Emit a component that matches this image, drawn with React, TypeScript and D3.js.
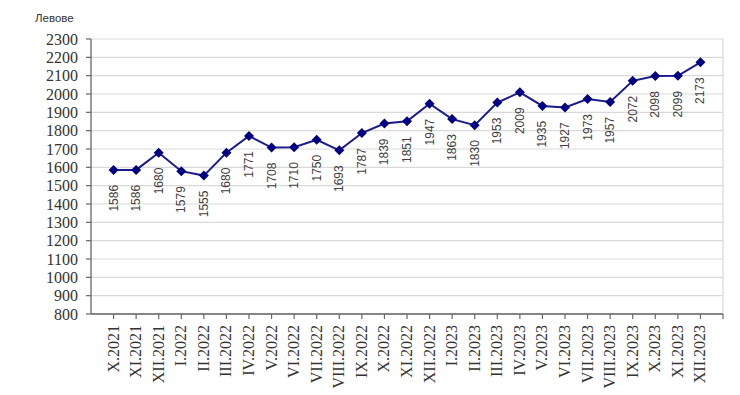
import React from "react";
import * as d3 from "d3";

const categories = [
  "X.2021", "XI.2021", "XII.2021", "I.2022", "II.2022", "III.2022", "IV.2022",
  "V.2022", "VI.2022", "VII.2022", "VIII.2022", "IX.2022", "X.2022", "XI.2022",
  "XII.2022", "I.2023", "II.2023", "III.2023", "IV.2023", "V.2023", "VI.2023",
  "VII.2023", "VIII.2023", "IX.2023", "X.2023", "XI.2023", "XII.2023",
];
const values = [
  1586, 1586, 1680, 1579, 1555, 1680, 1771, 1708, 1710, 1750, 1693, 1787, 1839,
  1851, 1947, 1863, 1830, 1953, 2009, 1935, 1927, 1973, 1957, 2072, 2098, 2099, 2173,
];
const yTicks = [800, 900, 1000, 1100, 1200, 1300, 1400, 1500, 1600, 1700, 1800, 1900, 2000, 2100, 2200, 2300];
const unitLabel = "Левове";

export default function App() {
  const W = 740, H = 395;
  const left = 91, right = 723, top = 39, bottom = 314;
  const x = d3.scalePoint<string>().domain(categories).range([left, right]).padding(1);
  const y = d3.scaleLinear().domain([800, 2300]).range([bottom, top]);
  const line = d3.line<number>()
    .x((_, i) => x(categories[i]) as number)
    .y((d) => y(d));
  const r = 5;
  const diamond = `M0,${-r}L${r},0L0,${r}L${-r},0Z`;
  const tickXs = [...categories.map((c) => x(c) as number), right];
  const serif = "'Liberation Serif', 'Times New Roman', Times, serif";
  const sans = "Arial, 'Liberation Sans', sans-serif";

  return (
    <svg width={W} height={H} style={{ position: "absolute", left: 0, top: 0, background: "#fff" }}>
      <text x={35} y={22} fontFamily={sans} fontSize={11.5} fill="#333">
        {unitLabel}
      </text>
      {yTicks.map((t) => (
        <line key={t} x1={left} x2={right} y1={y(t)} y2={y(t)} stroke="#d9d9d9" strokeWidth={1.2} />
      ))}
      <line x1={right} x2={right} y1={top} y2={bottom} stroke="#d9d9d9" strokeWidth={1.2} />
      <line x1={left} x2={left} y1={top} y2={bottom} stroke="#666" strokeWidth={1.3} />
      {yTicks.map((t) => (
        <g key={"yt" + t}>
          <line x1={left - 5} x2={left} y1={y(t)} y2={y(t)} stroke="#666" strokeWidth={1.2} />
          <text x={78} y={y(t)} dy="0.35em" textAnchor="end" fontFamily={serif} fontSize={16} fill="#333">
            {t}
          </text>
        </g>
      ))}
      <line x1={left} x2={right} y1={bottom} y2={bottom} stroke="#666" strokeWidth={1.3} />
      {tickXs.map((tx, i) => (
        <line key={"xt" + i} x1={tx} x2={tx} y1={bottom} y2={bottom + 5} stroke="#666" strokeWidth={1.2} />
      ))}
      {categories.map((c) => (
        <text key={"xl" + c} transform={`translate(${(x(c) as number) + 5},${bottom + 11}) rotate(-90)`} textAnchor="end"
          fontFamily={serif} fontSize={16} fill="#333">
          {c}
        </text>
      ))}
      <path d={line(values) as string} fill="none" stroke="#1a1a8c" strokeWidth={2} />
      {values.map((v, i) => (
        <path key={"m" + i} d={diamond} transform={`translate(${x(categories[i])},${y(v)})`} fill="#000080" />
      ))}
      {values.map((v, i) => (
        <text key={"dl" + i} transform={`translate(${(x(categories[i]) as number) + 4},${y(v) + 15}) rotate(-90)`} textAnchor="end"
          fontFamily={sans} fontSize={12} fill="#404040">
          {v}
        </text>
      ))}
    </svg>
  );
}
